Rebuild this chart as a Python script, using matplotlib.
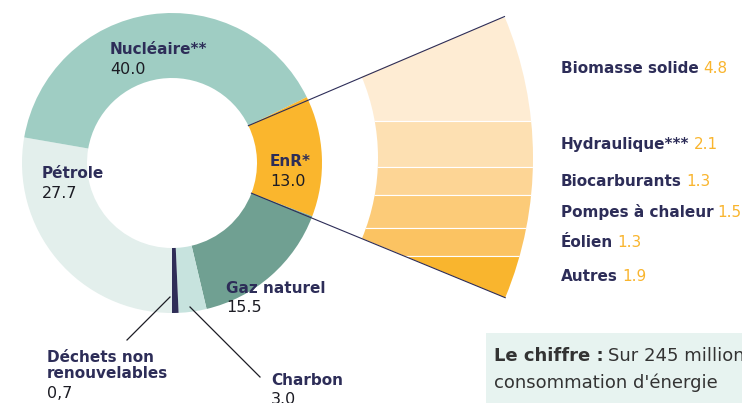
import numpy as np
import matplotlib.pyplot as plt
from matplotlib.patches import Wedge, Rectangle

W, H = 742, 403

# bouquet energetique, dans le sens horaire depuis le bas
sources = ['Pétrole', 'Nucléaire**', 'EnR*', 'Gaz naturel', 'Charbon', 'Déchets non\nrenouvelables']
parts = [27.7, 40.0, 13.0, 15.5, 3.0, 0.7]
part_txt = ['27.7', '40.0', '13.0', '15.5', '3.0', '0,7']
colors = ['#e3efec', '#9fcdc3', '#fab62d', '#70a092', '#c7e3de', '#2f2d57']

# detail des EnR
enr = ['Biomasse solide', 'Hydraulique***', 'Biocarburants', 'Pompes à chaleur', 'Éolien', 'Autres']
enr_vals = [4.8, 2.1, 1.3, 1.5, 1.3, 1.9]
enr_colors = ['#feecd3', '#fde0b2', '#fdd595', '#fccb78', '#fbc362', '#f9b52e']

navy = '#2d2d58'
ink = '#1c1c24'
orange = '#f9b52e'

fig = plt.figure(figsize=(W / 100, H / 100), dpi=100)
ax = fig.add_axes([0, 0, 1, 1])

cx, cy = 172, H - 163
R, ring = 150, 65
wedges, _ = ax.pie(parts, colors=colors, startangle=-90, counterclock=False,
                   radius=R, center=(cx, cy),
                   wedgeprops=dict(width=ring, linewidth=0))

# label anchors: x, baseline of the (last) name line, in top-left pixel coords
lab_pos = [(42, 178), (110, 54.5), (270, 166.5), (226, 293), (271, 385), (47, 378)]
for name, val, (x, y) in zip(sources, part_txt, lab_pos):
    ax.text(x, H - y, name, fontsize=11, fontweight='bold', color=navy,
            va='baseline', ha='left', linespacing=1.1)
    ax.text(x, H - y - 19.5, val, fontsize=11.5, color=ink,
            va='baseline', ha='left')

# leader lines for the small slices
ax.plot([170, 127], [H - 297, H - 340], color=ink, lw=0.9)
ax.plot([190, 260], [H - 307, H - 377], color=ink, lw=0.9)

# zoom fan for EnR
fx, fy = 168, H - 158
fr, fw = 365, 155
ft1, ft2 = -22.5, 22.8
fan = Wedge((fx, fy), fr, ft1, ft2, width=fw, facecolor='none', edgecolor='none')
ax.add_patch(fan)

y_top = fy + fr * np.sin(np.radians(ft2))
y_bot = fy + fr * np.sin(np.radians(ft1))
scale = (y_top - y_bot) / sum(enr_vals)
edges = y_top - np.concatenate([[0], np.cumsum(enr_vals)]) * scale

for i, (name, v, c) in enumerate(zip(enr, enr_vals, enr_colors)):
    hi, lo = edges[i], edges[i + 1]
    rect = Rectangle((fx, lo), fr + 20, hi - lo, facecolor=c, edgecolor='white', lw=0.8)
    ax.add_patch(rect)
    rect.set_clip_path(fan)
    t = ax.text(561, (hi + lo) / 2, name, fontsize=11, fontweight='bold', color=navy,
                va='center', ha='left')
    ax.annotate(f'{v}', xy=(1, 0), xycoords=t, xytext=(3, 0), textcoords='offset points',
                fontsize=11, color=orange, va='bottom', ha='left')

# connecting lines from the EnR slice to the fan corners
w = wedges[2]
r_in = R - ring
for ang, fang in [(w.theta2, ft2), (w.theta1, ft1)]:
    x0 = cx + r_in * np.cos(np.radians(ang))
    y0 = cy + r_in * np.sin(np.radians(ang))
    x1 = fx + fr * np.cos(np.radians(fang))
    y1 = fy + fr * np.sin(np.radians(fang))
    ax.plot([x0, x1], [y0, y1], color=navy, lw=0.8)

# encadre "Le chiffre"
ax.add_patch(Rectangle((486, 0), W, H - 333, facecolor='#e7f3f0', edgecolor='none'))
t1 = ax.text(494, H - 361, 'Le chiffre :', fontsize=13, fontweight='bold', color='#333333',
             va='baseline', ha='left')
ax.annotate('Sur 245 millions', xy=(1, 0), xycoords=t1, xytext=(3, 0),
            textcoords='offset points', fontsize=13, color='#333333', va='bottom', ha='left')
ax.text(494, H - 388, "consommation d'énergie", fontsize=13, color='#333333',
        va='baseline', ha='left')

ax.set_xlim(0, W)
ax.set_ylim(0, H)
ax.set_aspect('equal')
ax.axis('off')

fig.savefig('out.png', dpi=100)
